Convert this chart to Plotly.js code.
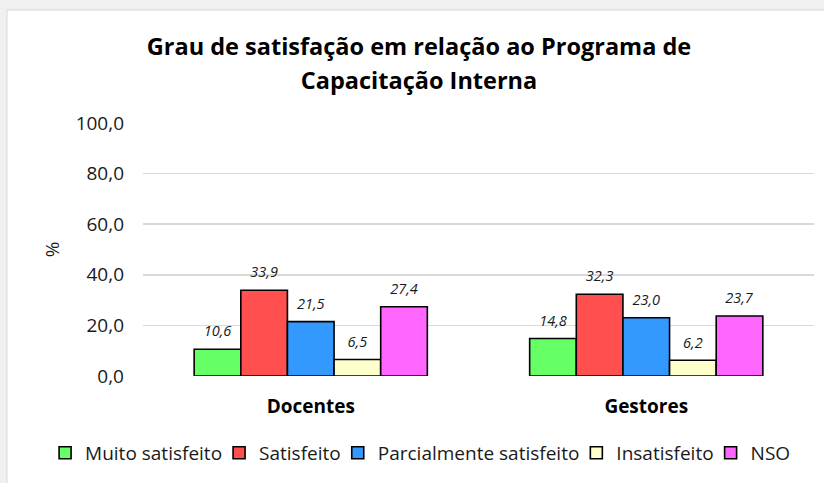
<!DOCTYPE html>
<html><head><meta charset="utf-8">
<script src="https://cdn.plot.ly/plotly-3.0.1.min.js"></script>
<style>
html,body{margin:0;padding:0;background:#f0f0f0;width:824px;height:483px;overflow:hidden;}
#chart{width:824px;height:483px;}
</style></head><body><div id="chart"></div>
<script>
const categories = ['Docentes', 'Gestores'];
const seriesNames = ['Muito satisfeito', 'Satisfeito', 'Parcialmente satisfeito', 'Insatisfeito', 'NSO'];
const muitoSatisfeito = [10.6, 14.8];
const satisfeito = [33.9, 32.3];
const parcialmenteSatisfeito = [21.5, 23.0];
const insatisfeito = [6.5, 6.2];
const nso = [27.4, 23.7];
const yTickVals = [0, 20, 40, 60, 80, 100];
const chartTitle = ['Grau de satisfação em relação ao Programa de', 'Capacitação Interna'];
const yTitle = '%';

const seriesValues = [muitoSatisfeito, satisfeito, parcialmenteSatisfeito, insatisfeito, nso];
const colors = ['#66ff66', '#ff4f4f', '#3399ff', '#ffffcc', '#ff66ff'];
const FONT = '"Open Sans", "Noto Sans", sans-serif';

const traces = seriesNames.map((name, i) => ({
  type: 'bar',
  name: name,
  x: categories,
  y: seriesValues[i],
  marker: { color: colors[i], line: { color: '#000000', width: 1.6 } },
  texttemplate: '<span style="font-size:14.5px">%{y:.1f}</span><br>&nbsp;',
  textposition: 'outside',
  constraintext: 'none',
  cliponaxis: false,
  textfont: { family: FONT, size: 6, color: '#1a1a1a', style: 'italic' },
  hoverinfo: 'x+y+name'
}));

const layout = {
  width: 824, height: 483,
  paper_bgcolor: '#f0f0f0',
  plot_bgcolor: 'rgba(0,0,0,0)',
  margin: { l: 143, r: 10, t: 123, b: 107, pad: 0, autoexpand: false },
  separators: ',.',
  font: { family: FONT, color: '#1a1a1a', size: 19 },
  title: {
    text: chartTitle.map(t => '<span style="font-size:23.5px">' + t + '</span>').join('<br>'),
    font: { family: FONT, size: 26, color: '#000000', weight: 'bold' },
    x: 0.5085, xref: 'container', xanchor: 'center',
    y: 1 - 55 / 483, yref: 'container', yanchor: 'top'
  },
  shapes: [{
    type: 'rect', xref: 'paper', yref: 'paper', layer: 'below',
    x0: -0.2027, x1: 1.5, y0: -1, y1: 1.4466,
    fillcolor: '#ffffff', line: { color: '#d6d6d6', width: 1 }
  }],
  barmode: 'group',
  bargap: 0.305,
  bargroupgap: 0,
  xaxis: {
    type: 'category',
    showgrid: false, showline: false, zeroline: false,
    ticks: '', ticklabelstandoff: 17, tickangle: 0,
    tickfont: { family: FONT, size: 19, color: '#000000', weight: 'bold' }
  },
  yaxis: {
    range: [0, 100],
    tickvals: yTickVals,
    tickformat: '.1f',
    ticks: '', ticklabelstandoff: 18,
    showline: false, zeroline: false,
    gridcolor: '#d9d9d9', gridwidth: 1.5,
    tickfont: { family: FONT, size: 19, color: '#1a1a1a' },
    title: { text: yTitle, font: { family: FONT, size: 19, color: '#1a1a1a' }, standoff: 10 }
  },
  legend: {
    orientation: 'h',
    x: -0.134, xanchor: 'left',
    y: -0.304, yanchor: 'middle',
    indentation: -8,
    font: { family: FONT, size: 19, color: '#1a1a1a' },
    traceorder: 'normal',
    bgcolor: 'rgba(0,0,0,0)'
  },
  showlegend: true
};

Plotly.newPlot('chart', traces, layout, { displayModeBar: false, staticPlot: true });
</script></body></html>
